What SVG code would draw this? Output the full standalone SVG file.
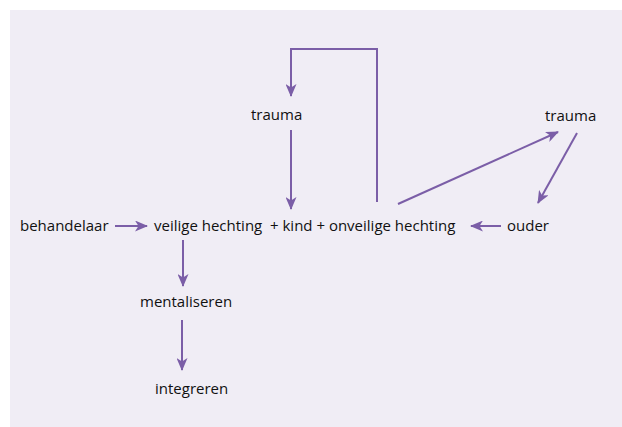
<svg xmlns="http://www.w3.org/2000/svg" width="622" height="427" viewBox="0 0 622 427">
  <style>
    .lbl { font-family: "Open Sans", "Liberation Sans", sans-serif; font-size: 15px; fill: #111111; }
    .edge { stroke: #7b5ea7; stroke-width: 2; fill: none; }
  </style>
  <defs>
    <marker id="head" viewBox="0 0 13 11" refX="12" refY="5.5" markerWidth="13" markerHeight="11" markerUnits="userSpaceOnUse" orient="auto">
      <path d="M0,0 L13,5.5 L0,11 L3.5,5.5 Z" fill="#7b5ea7"/>
    </marker>
  </defs>
  <rect x="10" y="10" width="612" height="417" fill="#f0edf5"/>

  <g id="connectors">
    <line class="edge" x1="115" y1="226" x2="147" y2="226" marker-end="url(#head)"/>
    <line class="edge" x1="501" y1="226" x2="471" y2="226" marker-end="url(#head)"/>
    <line class="edge" x1="183" y1="240" x2="183" y2="286" marker-end="url(#head)"/>
    <line class="edge" x1="182" y1="320" x2="182" y2="370" marker-end="url(#head)"/>
    <line class="edge" x1="291" y1="130" x2="291" y2="209" marker-end="url(#head)"/>
    <polyline class="edge" points="377,202 377,49 291,49 291,96" marker-end="url(#head)"/>
    <line class="edge" x1="398" y1="204" x2="558" y2="132" marker-end="url(#head)"/>
    <line class="edge" x1="577" y1="133" x2="538" y2="203" marker-end="url(#head)"/>
  </g>

  <g id="behandelaar"><text class="lbl" x="20" y="231">behandelaar</text></g>
  <g id="veilige-hechting"><text class="lbl" x="154" y="231">veilige hechting</text></g>
  <g id="kind-onveilige-hechting"><text class="lbl" x="270" y="231">+ kind + onveilige hechting</text></g>
  <g id="ouder"><text class="lbl" x="507" y="231">ouder</text></g>
  <g id="trauma-1"><text class="lbl" x="251" y="120">trauma</text></g>
  <g id="trauma-2"><text class="lbl" x="545" y="121">trauma</text></g>
  <g id="mentaliseren"><text class="lbl" x="140" y="307">mentaliseren</text></g>
  <g id="integreren"><text class="lbl" x="155" y="394">integreren</text></g>
</svg>
